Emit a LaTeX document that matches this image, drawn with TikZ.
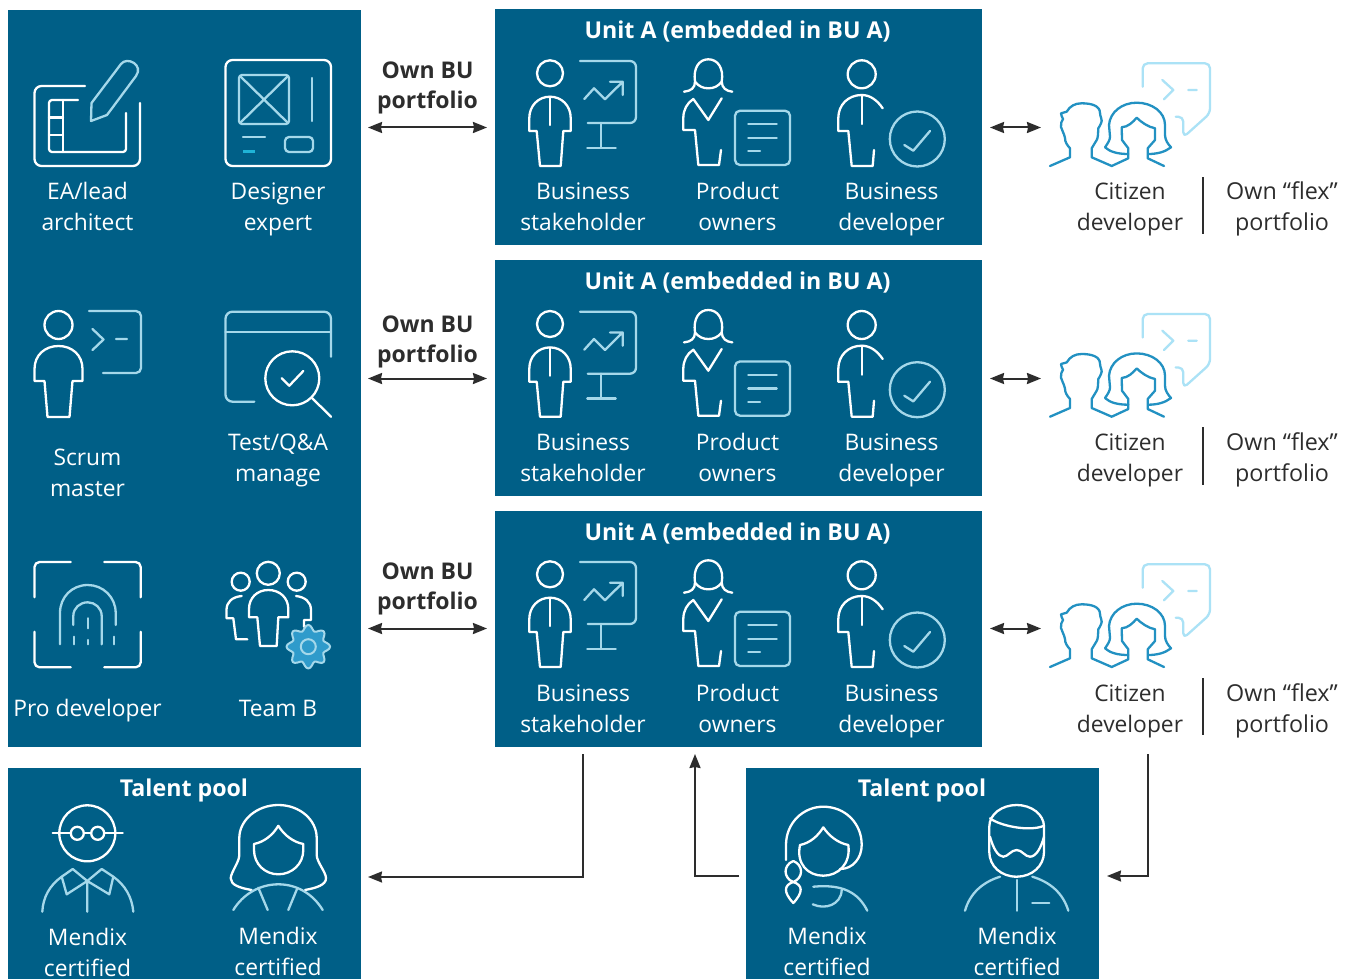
\documentclass[tikz,border=0pt]{standalone}
\usepackage{fontspec}
\setmainfont{Open Sans}
\usetikzlibrary{arrows.meta,calc}
\definecolor{boxblue}{HTML}{005F87}
\definecolor{lightic}{HTML}{A5D8EA}
\definecolor{cyanic}{HTML}{1FB3D6}
\definecolor{citblue}{HTML}{2291C2}
\definecolor{bubble}{HTML}{ABE2F6}
\definecolor{gearfill}{HTML}{2F9BCB}
\definecolor{ink}{HTML}{2D2D2D}
\newcommand{\TT}[2]{\strut #1\\#2\strut}
\tikzset{
  box/.style={fill=boxblue,draw=none,inner sep=0pt,outer sep=0pt,anchor=north west},
  wl/.style={draw=white,line width=2.3pt,line join=round,line cap=round},
  ll/.style={draw=lightic,line width=2.3pt,line join=round,line cap=round},
  lblw/.style={text=white,align=center,inner sep=0pt,font=\fontsize{22.8}{31}\selectfont},
  lbld/.style={text=ink,align=center,inner sep=0pt,font=\fontsize{22.8}{31}\selectfont},
  flx/.style={text=ink,align=center,inner sep=0pt,font=\fontsize{23.3}{31}\selectfont},
  ttl/.style={text=white,align=center,inner sep=0pt,font=\fontsize{23.2}{30}\selectfont\bfseries},
  own/.style={text=ink,align=center,inner sep=0pt,font=\fontsize{23}{30}\selectfont\bfseries},
  dbl/.style={draw=ink,line width=2pt,{Stealth[length=14pt,width=11pt,inset=1pt]}-{Stealth[length=14pt,width=11pt,inset=1pt]}},
  sgl/.style={draw=ink,line width=2pt,-{Stealth[length=14pt,width=11pt,inset=1pt]}},
  sep/.style={draw=ink,line width=2.4pt},
  unitrow/.pic={
    % stakeholder
    \draw[wl] (550,73.3) circle (13);
    \draw[wl] (529.3,131)--(529.3,118) .. controls (529.3,106) and (538,96.7) .. (550,96.7) .. controls (562,96.7) and (570.7,106) .. (570.7,118)--(570.7,131)--(563.3,131)--(560.7,166)--(540,166)--(536.7,131)--cycle;
    \draw[wl] (550,96.7)--(550,125);
    \draw[ll,rounded corners=6pt] (580,61)--(636,61)--(636,123)--(587.7,123);
    \draw[ll] (600.7,123)--(600.7,147.7) (587.3,147.7)--(615.7,147.7);
    \draw[ll] (584.3,99)--(594,88.3)--(605,99.3)--(622.7,81.7) (610,81.7)--(622.7,81.7)--(622.7,95);
    % product owner
    \draw[wl] (684,91.7) .. controls (691,91) and (695,88) .. (695,81.7) .. controls (693,68) and (699,59.3) .. (708.3,59.3) .. controls (717.6,59.3) and (724,68) .. (721.7,81.7) .. controls (722,88) and (726,91) .. (732.3,91.7);
    \draw[wl] (695,81.7) .. controls (699,86.5) and (703,88.3) .. (708.3,88.3) .. controls (713.6,88.3) and (718,86.5) .. (721.7,81.7);
    \draw[wl] (721,150)--(719,165)--(698.3,165)--(695,130)--(683.3,130)--(683.3,118) .. controls (683.3,110) and (687,103) .. (693.3,99)--(708.3,120)--(721.7,98.3);
    \draw[ll,rounded corners=5pt] (735,110.7) rectangle (790,165);
    \draw[ll] (748.3,124.3)--(776.7,124.3) (748.3,137.7)--(776.7,137.7) (748.3,151)--(760,151);
    % business developer
    \draw[wl] (861.7,74.3) circle (14);
    \draw[wl] (882.7,108.3) .. controls (877,100) and (870,95) .. (861.7,95) .. controls (848,95) and (838.3,105) .. (838.3,118)--(838.3,131)--(848.3,131)--(851.7,166)--(872.7,166)--(874,150);
    \draw[wl] (861.7,95)--(861.7,124);
    \draw[ll] (917.3,139) circle (27.5);
    \draw[ll] (904.3,145)--(913.3,150.7)--(930,131);
  },
  citizen/.pic={
    \draw[draw=bubble,line width=2.3pt,line join=round,line cap=round,rounded corners=5pt] (1142.7,86.7)--(1142.7,63.3)--(1210,63.3)--(1210,113.3)--(1183.3,137.3)--(1183.3,116.7)--(1175.7,116.7);
    \draw[draw=bubble,line width=2.3pt,line cap=round,line join=round] (1162.3,80)--(1173.3,90)--(1164,99.3) (1188.3,90)--(1196.7,90);
    \draw[draw=citblue,line width=2.3pt,line join=round,line cap=round] (1050,166)--(1070,157.3)--(1070,148.3) .. controls (1067,145) and (1065,142) .. (1065,138) .. controls (1064,133) and (1062,131) .. (1061,127) .. controls (1060,124) and (1062,121) .. (1063,119) .. controls (1062,117) and (1061,115) .. (1061,113.3)--(1066.7,111.7) .. controls (1070,106) and (1075,103.3) .. (1081.7,103.3) .. controls (1092,103.3) and (1100,106) .. (1100,113) .. controls (1100,117) and (1103,120) .. (1101,123.3) .. controls (1100,126) and (1099,127) .. (1098.3,128.3) .. controls (1098,134) and (1098,138) .. (1096.7,140)--(1091.7,148.3)--(1091.7,157.3)--(1111.7,166)--(1128.3,158.3)--(1128.3,148.3)--(1122,140)--(1121.7,127.3) .. controls (1128,127) and (1133,122) .. (1136.7,117.7) .. controls (1141,122) and (1148,127) .. (1155,128.3)--(1155,140)--(1147.7,148.3)--(1147.7,158.3)--(1164,166);
    \draw[draw=citblue,line width=2.3pt,line join=round,line cap=round] (1128.3,154) .. controls (1118,154) and (1110,152) .. (1105,147.3) .. controls (1108,143) and (1110,140) .. (1110,136.7) -- (1109,125) .. controls (1110,112) and (1122,102.7) .. (1136.7,102.7) .. controls (1152,102.7) and (1165,112) .. (1165,125) -- (1165,135) .. controls (1165,140) and (1168,144) .. (1171,147.3) .. controls (1165,152) and (1157,154) .. (1148.3,154);
  }
}
\begin{document}
\begin{tikzpicture}[x=1pt,y=-1pt]
\useasboundingbox (0,0) rectangle (1349,979);
\fill[white] (0,0) rectangle (1349,979);
% boxes
\node[box,minimum width=353pt,minimum height=737pt] (left) at (8,10) {};
\node[box,minimum width=487pt,minimum height=236pt] (unit1) at (495,9) {};
\node[box,minimum width=487pt,minimum height=236pt] (unit2) at (495,260) {};
\node[box,minimum width=487pt,minimum height=236pt] (unit3) at (495,511) {};
\node[box,minimum width=353pt,minimum height=211pt] (talent1) at (8,768) {};
\node[box,minimum width=353pt,minimum height=211pt] (talent2) at (746,768) {};
% unit rows
\pic at (0,0) {unitrow};
\pic at (0,250.7) {unitrow};
\pic at (0,501) {unitrow};
\pic at (0,0) {citizen};
\pic at (0,250.7) {citizen};
\pic at (0,501) {citizen};
% EA
\draw[wl,rounded corners=7pt] (85,86)--(34.5,86)--(34.5,166)--(140,166)--(140,103);
\draw[wl,rounded corners=3pt] (78,100)--(49,100)--(49,152)--(126,152)--(126,113);
\draw[wl] (63,100)--(63,152) (49,117.5)--(63,117.5) (49,135)--(63,135);
\draw[ll] (91,121)--(91.5,103)--(121,64) .. controls (127,56) and (144,65) .. (136,76)--(107,115)--cycle;
% Designer
\draw[wl,rounded corners=7pt] (225.5,60) rectangle (331,166);
\draw[ll,rounded corners=3pt] (239,75) rectangle (289,124);
\draw[ll] (240,76)--(288,123) (288,76)--(240,123);
\draw[ll] (312,78)--(312,121) (243,137)--(265,137);
\draw[draw=cyanic,line width=2.3pt] (243,151.5)--(255,151.5);
\draw[ll,rounded corners=4pt] (285,137) rectangle (313,152);
% Scrum
\draw[wl] (58.5,325) circle (14);
\draw[wl] (34.5,381)--(34.5,369) .. controls (34.5,355) and (45,346) .. (58.5,346) .. controls (72,346) and (82.5,355) .. (82.5,369)--(82.5,381)--(72.5,381)--(69.5,417)--(47.5,417)--(44.5,381)--cycle;
\draw[ll,rounded corners=5pt] (89,311)--(141,311)--(141,373)--(103,373);
\draw[ll] (92.5,329)--(103.5,339.5)--(92.5,350) (116,339)--(127,339);
% Test
\draw[ll,rounded corners=7pt] (331,356.7)--(331,311.7)--(225.5,311.7)--(225.5,401.7)--(254.3,401.7);
\draw[ll] (225.5,332.3)--(331,332.3);
\draw[wl] (292.3,378.3) circle (27);
\draw[wl] (312.3,398.3)--(331,416.7);
\draw[wl] (281.7,378.3)--(289.3,385.7)--(303.3,371);
% Pro dev
\draw[wl,rounded corners=5pt] (70.7,562)--(34.5,562)--(34.5,597.3);
\draw[wl,rounded corners=5pt] (104.3,562)--(140.7,562)--(140.7,597.3);
\draw[wl,rounded corners=5pt] (34.5,631.7)--(34.5,667.3)--(70.7,667.3);
\draw[wl,rounded corners=5pt] (104.3,667.3)--(140.7,667.3)--(140.7,631.7);
\draw[ll] (60,644.3)--(60,613) .. controls (60,597) and (72,585) .. (87.7,585) .. controls (103,585) and (115.7,597) .. (115.7,613)--(115.7,625);
\draw[ll] (73.3,625)--(73.3,616) .. controls (73.3,608) and (80,602.3) .. (87.7,602.3) .. controls (95,602.3) and (101.7,608) .. (101.7,616)--(101.7,644.3);
\draw[ll] (87.7,618.3)--(87.7,628.3) (74,636.7)--(74,644.3) (87.7,640)--(87.7,644.3) (114.3,636.7)--(114.3,644.3);
% Team
\draw[wl] (268.3,573.3) circle (11.5) (240.7,581.7) circle (9) (296.7,581.7) circle (9);
\draw[wl] (249,617.3)--(249,609) .. controls (249,598) and (257,590) .. (268.3,590) .. controls (280,590) and (288.3,598) .. (288.3,609)--(288.3,617.3)--(278.3,617.3)--(276.7,646)--(260,646)--(257.3,617.3)--cycle;
\draw[wl] (241.7,596) .. controls (232,597) and (226.5,602) .. (226.5,610)--(226.5,618.3)--(233.3,618.3)--(236,639.3)--(247.3,639.3);
\draw[wl] (296,596) .. controls (305,597) and (311,602) .. (311,610)--(311,620)--(304,620)--(304,626.7);
\draw[draw=lightic,fill=gearfill,line width=2pt,line join=round] plot[smooth cycle,samples=64,domain=0:354.375] ({308.3+(19+2.8*cos(8*\x))*cos(\x)},{646.7+(19+2.8*cos(8*\x))*sin(\x)});
\draw[draw=lightic,fill=gearfill,line width=2pt] (308.3,646.7) circle (7.5);
% Talent1 man
\draw[wl] (87.3,833.3) circle (28);
\draw[wl] (77.3,833.3) circle (6.5) (97.7,833.3) circle (6.5);
\draw[wl] (52.7,833.3)--(70.8,833.3) (83.8,833.3)--(91.2,833.3) (104.2,833.3)--(122.7,833.3);
\draw[ll] (42.3,911.7) .. controls (43,897) and (50,885) .. (61.7,876.7)--(72.7,869)--(87.3,881)--(101.7,869)--(113.3,876.7) .. controls (125,885) and (132,897) .. (133.3,911.7);
\draw[ll] (61.7,876.7)--(66.7,894.3)--(87.3,881)--(109.3,894.3)--(113.3,876.7) (87.3,881)--(87.3,911.7);
% Talent1 woman
\draw[wl] (251.7,890) .. controls (240,888) and (230.7,885) .. (230.7,878.3) .. controls (231,872) and (239.3,862) .. (239.3,855)--(239.3,838) .. controls (239.3,820) and (257,805) .. (278.3,805) .. controls (300,805) and (316.7,820) .. (316.7,838)--(316.7,855) .. controls (316.7,862) and (326,872) .. (326,878.3) .. controls (326,885) and (316,888) .. (305,890);
\draw[wl] (278.3,825.7) .. controls (273,835) and (264,842) .. (254,844)--(254,850) .. controls (254,864) and (265,874.3) .. (278.3,874.3) .. controls (292,874.3) and (303.3,864) .. (303.3,850)--(303.3,844) .. controls (293,842) and (284,835) .. (278.3,825.7);
\draw[ll] (233.3,910) .. controls (243,894) and (260,884.3) .. (278.3,884.3) .. controls (297,884.3) and (313,894) .. (322.7,910);
\draw[ll] (258.3,887.7)--(267.7,910) (297.3,888.3)--(288.3,910);
% Talent2 woman
\draw[wl] (786,860)--(786,845) .. controls (786,823) and (803,806.7) .. (823.3,806.7) .. controls (845,806.7) and (861.7,823) .. (861.7,845) .. controls (861.7,858) and (853,869) .. (840,869);
\draw[wl] (823.3,827.3) .. controls (818,836) and (810,843) .. (800,845) .. controls (796,864) and (808,875.7) .. (823.3,875.7) .. controls (838,875.7) and (851,864) .. (848.3,845) .. controls (838,843) and (829,836) .. (823.3,827.3);
\draw[wl] (793.3,861) .. controls (783,865) and (783,878) .. (793.3,882) .. controls (803.6,878) and (803.6,865) .. (793.3,861);
\draw[wl] (793.3,882) .. controls (784,885) and (783,892) .. (793.3,903) .. controls (803.6,892) and (802.6,885) .. (793.3,882);
\draw[ll] (813.3,886.7) .. controls (842,884) and (858,892) .. (867.3,910.7);
\draw[ll] (841.7,890) .. controls (841,905) and (825,910) .. (812.7,904.3);
% Talent2 man
\draw[wl] (989.3,826.7) .. controls (989.3,814) and (1002,805) .. (1016.7,805) .. controls (1031,805) and (1044,814) .. (1044,826.7)--(1044,852) .. controls (1044,866) and (1032,876.7) .. (1016.7,876.7) .. controls (1001,876.7) and (989.3,866) .. (989.3,852)--cycle;
\draw[wl] (990,818.3) .. controls (1000,826) and (1030,832) .. (1044,825.7);
\draw[wl] (990,836.7) .. controls (993,848) and (998,856.7) .. (1003.3,856.7) .. controls (1008,856.7) and (1011,850) .. (1016.7,850) .. controls (1022,850) and (1025,856.7) .. (1030,856.7) .. controls (1036,856.7) and (1041,848) .. (1044,836.7);
\draw[ll] (965,910.7) .. controls (970,893) and (983,882) .. (1000,876.7) (1032.3,876.7) .. controls (1050,882) and (1063,893) .. (1068.3,910.7);
\draw[ll] (1016.7,880)--(1016.7,910.7) (1032.3,903.3)--(1049.3,903.3);
% left labels
\node[lblw] (tea) at (87.5,208.7) {\TT{EA/lead}{architect}};
\node[lblw] (tde) at (278,208.7) {\TT{Designer}{expert}};
\node[lblw] (tsc) at (87.5,474.5) {\TT{Scrum}{master}};
\node[lblw] (tte) at (278,459.3) {\TT{Test/Q\&A}{manage}};
\node[lblw] (tpr) at (87.5,710) {\strut Pro developer};
\node[lblw] (ttb) at (278,710) {\strut Team B};
% unit labels
\foreach \n/\d in {1/0,2/251,3/502}{
  \node[ttl,anchor=base] (ut\n) at (737.5,38.3+\d) {Unit A (embedded in BU A)};
  \node[lblw] (us\n) at (583,208.7+\d) {\TT{Business}{stakeholder}};
  \node[lblw] (up\n) at (737.5,208.7+\d) {\TT{Product}{owners}};
  \node[lblw] (ud\n) at (891.5,208.7+\d) {\TT{Business}{developer}};
  \node[lbld] (cd\n) at (1130,208.7+\d) {\TT{Citizen}{developer}};
  \node[flx] (fx\n) at (1282,208.7+\d) {\TT{Own “flex”}{portfolio}};
}
\draw[sep] (1203,177)--(1203,234) (1203,427)--(1203,485) (1203,678)--(1203,735);
% own BU
\node[own] (o1) at (427.5,87.5) {\TT{Own BU}{portfolio}};
\node[own] (o2) at (427.5,341.5) {\TT{Own BU}{portfolio}};
\node[own] (o3) at (427.5,588.5) {\TT{Own BU}{portfolio}};
% talent labels
\node[ttl,anchor=base] (tp1) at (184,796) {Talent pool};
\node[ttl,anchor=base] (tp2) at (922,796) {Talent pool};
\node[lblw] (m1) at (87.5,954.5) {\TT{Mendix}{certified}};
\node[lblw] (m2) at (278,953.5) {\TT{Mendix}{certified}};
\node[lblw] (m3) at (827,953.5) {\TT{Mendix}{certified}};
\node[lblw] (m4) at (1017,953.5) {\TT{Mendix}{certified}};
% connectors
\coordinate (r1) at (0,127.5);
\coordinate (r2) at (0,378.5);
\coordinate (r3) at (0,628.5);
\coordinate (c1) at (1041,127.5);
\coordinate (c2) at (1041,378.5);
\coordinate (c3) at (1041,628.5);
\coordinate (b1) at (583,877);
\coordinate (b2) at (695,876);
\coordinate (b3) at (1148,876);
\draw[dbl] ([xshift=7pt]left.east |- r1)--([xshift=-8pt]unit1.west |- r1);
\draw[dbl] ([xshift=7pt]left.east |- r2)--([xshift=-8pt]unit2.west |- r2);
\draw[dbl] ([xshift=7pt]left.east |- r3)--([xshift=-8pt]unit3.west |- r3);
\draw[dbl] ([xshift=8pt]unit1.east |- r1)--(c1);
\draw[dbl] ([xshift=8pt]unit2.east |- r2)--(c2);
\draw[dbl] ([xshift=8pt]unit3.east |- r3)--(c3);
\draw[sgl] ([yshift=-7pt]unit3.south -| b1)--(b1)--([xshift=7pt]talent1.east |- b1);
\draw[sgl] ([xshift=-7pt]talent2.west |- b2)--(b2)--([yshift=-7pt]unit3.south -| b2);
\draw[sgl] ([yshift=-7pt]unit3.south -| b3)--(b3)--([xshift=8pt]talent2.east |- b3);
\end{tikzpicture}
\end{document}
